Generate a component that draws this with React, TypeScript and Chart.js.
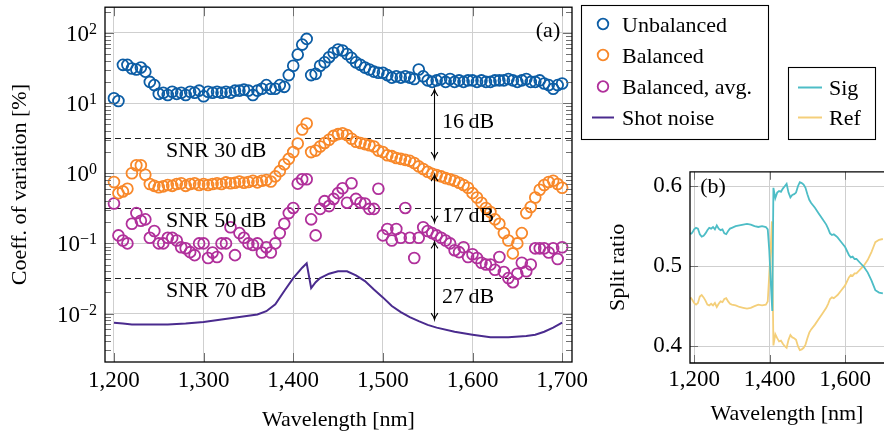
import React, { useEffect, useRef } from 'react';
import { Chart, registerables } from 'chart.js';
Chart.register(...registerables);

const FONT = '"Liberation Serif", "Times New Roman", serif';
const FS = 22;
const TFS = 23;

const BLUE = '#0C5DA5';
const ORANGE = '#F8882A';
const MAGENTA = '#B0309B';
const SHOT = '#4A2B8E';
const SIG = '#4DBDC6';
const REF = '#F4CF7A';
const GRID = '#cfcfcf';

// ---- panel (a) data ----
const wavelengths = [
  1200, 1205, 1210, 1215, 1220, 1225, 1230, 1235, 1240, 1245,
  1250, 1255, 1260, 1265, 1270, 1275, 1280, 1285, 1290, 1295,
  1300, 1305, 1310, 1315, 1320, 1325, 1330, 1335, 1340, 1345,
  1350, 1355, 1360, 1365, 1370, 1375, 1380, 1385, 1390, 1395,
  1400, 1405, 1410, 1415, 1420, 1425, 1430, 1435, 1440, 1445,
  1450, 1455, 1460, 1465, 1470, 1475, 1480, 1485, 1490, 1495,
  1500, 1505, 1510, 1515, 1520, 1525, 1530, 1535, 1540, 1545,
  1550, 1555, 1560, 1565, 1570, 1575, 1580, 1585, 1590, 1595,
  1600, 1605, 1610, 1615, 1620, 1625, 1630, 1635, 1640, 1645,
  1650, 1655, 1660, 1665, 1670, 1675, 1680, 1685, 1690, 1695,
  1700,
];
const unbalanced = [
  11.7, 10.7, 35, 35, 31, 30, 32, 28, 20, 18,
  13.5, 14, 13, 14.5, 13.5, 14, 13, 14.5, 14, 15,
  12.5, 14.5, 14, 14.5, 14, 14.5, 14, 15, 15, 15.5,
  15, 13, 15, 16, 18, 16, 16, 18, 17, 25,
  34, 49, 68, 82, 25, 26, 34, 38, 45, 52,
  58, 56, 50, 44, 38, 35, 32, 30, 28, 27,
  27, 25, 23, 24, 23, 24, 23, 22, 30, 24,
  21, 20, 21, 22, 20, 22, 20, 21, 20, 21,
  21, 20, 21, 20, 20, 21, 21, 21, 22, 21,
  20, 21, 22, 20, 20, 21, 19, 18, 16, 18,
  19,
];
const balanced = [
  0.75, 0.52, 0.55, 0.60, 1.0, 1.3, 1.3, 0.95, 0.70, 0.66,
  0.63, 0.65, 0.68, 0.66, 0.70, 0.72, 0.66, 0.70, 0.72, 0.68,
  0.70, 0.68, 0.70, 0.72, 0.70, 0.74, 0.72, 0.73, 0.76, 0.73,
  0.75, 0.78, 0.74, 0.78, 0.80, 0.76, 0.90, 1.07, 1.34, 1.6,
  2.0, 2.65, 4.2, 5.1, 2.0, 2.1, 2.4, 2.7, 3.0, 3.4,
  3.6, 3.7, 3.5, 3.1, 2.8, 2.7, 2.6, 2.5, 2.4, 2.1,
  2.0, 1.8, 1.75, 1.65, 1.6, 1.55, 1.5, 1.4, 1.25, 1.15,
  1.05, 0.98, 0.94, 0.90, 0.85, 0.82, 0.78, 0.73, 0.68, 0.62,
  0.52, 0.45, 0.38, 0.32, 0.28, 0.22, 0.19, 0.14, 0.11, 0.072,
  0.10, 0.14, 0.27, 0.33, 0.45, 0.58, 0.68, 0.75, 0.78, 0.70,
  0.62,
];
const balancedAvg = [
  0.37, 0.13, 0.11, 0.10, 0.19, 0.27, 0.21, 0.22, 0.12, 0.15,
  0.10, 0.10, 0.12, 0.12, 0.11, 0.088, 0.085, 0.075, 0.068, 0.10,
  0.10, 0.062, 0.074, 0.064, 0.10, 0.10, 0.17, 0.068, 0.14, 0.12,
  0.10, 0.095, 0.10, 0.074, 0.088, 0.074, 0.10, 0.14, 0.19, 0.27,
  0.32, 0.71, 0.82, 0.82, 0.22, 0.13, 0.31, 0.40, 0.34, 0.43,
  0.52, 0.61, 0.38, 0.72, 0.43, 0.38, 0.37, 0.31, 0.31, 0.60,
  0.13, 0.16, 0.11, 0.16, 0.12, 0.32, 0.12, 0.062, 0.12, 0.17,
  0.15, 0.14, 0.13, 0.12, 0.11, 0.10, 0.08, 0.075, 0.088, 0.064,
  0.07, 0.062, 0.053, 0.05, 0.05, 0.042, 0.064, 0.039, 0.032, 0.028,
  0.037, 0.053, 0.04, 0.05, 0.085, 0.085, 0.085, 0.074, 0.085, 0.06,
  0.088,
];
const shotX = [
  1200, 1210, 1220, 1240, 1260, 1280, 1300, 1320, 1340, 1360, 1370, 1380, 1390, 1400,
  1410, 1415, 1420, 1425, 1430, 1440, 1450, 1460, 1470, 1480, 1490, 1500, 1510, 1520,
  1530, 1540, 1550, 1560, 1580, 1600, 1620, 1640, 1660, 1670, 1680, 1690, 1700,
];
const shotY = [
  0.0074, 0.0072, 0.0070, 0.0070, 0.0070, 0.0072, 0.0076, 0.0082, 0.0089, 0.0097, 0.0108, 0.0135, 0.021, 0.032,
  0.045, 0.052, 0.023, 0.028, 0.032, 0.037, 0.040, 0.040, 0.035, 0.029, 0.022, 0.017, 0.0128, 0.0105,
  0.0089, 0.0078, 0.0069, 0.0063, 0.0055, 0.0050, 0.0046, 0.0046, 0.0048, 0.0050, 0.0055, 0.0063, 0.0074,
];

const xTicksA = [1200, 1300, 1400, 1500, 1600, 1700];
const yTicksA = [0.01, 0.1, 1, 10, 100];
const yExpA = ['\u22122', '\u22121', '0', '1', '2'];

const snrValues = [3.162, 0.3162, 0.03162];
const snrLabels = ['SNR 30\u2009dB', 'SNR 50\u2009dB', 'SNR 70\u2009dB'];
const snrLabelX = 1314;

const arrowX = 1557;
const arrowTops = [15.6, 0.957, 0.105];
const arrowBottoms = [1.61, 0.2, 0.0082];
const arrowLabels = ['16\u2009dB', '17\u2009dB', '27\u2009dB'];
const arrowLabelValues = [5.4, 0.244, 0.017];

const legendA = ['Unbalanced', 'Balanced', 'Balanced, avg.', 'Shot noise'];
const legendB = ['Sig', 'Ref'];

// ---- panel (b) data ----
const sigX = [
  1190, 1195, 1200, 1205, 1210, 1215, 1220, 1225, 1230, 1235, 1240, 1245, 1250, 1255,
  1260, 1265, 1270, 1275, 1280, 1285, 1290, 1295, 1300, 1310, 1320, 1330, 1340, 1350,
  1360, 1370, 1380, 1390, 1395, 1399, 1403, 1407, 1410, 1415, 1420, 1425, 1430, 1435,
  1440, 1445, 1450, 1455, 1460, 1465, 1470, 1475, 1480, 1485, 1490, 1495, 1500, 1505,
  1510, 1520, 1530, 1540, 1550, 1555, 1560, 1565, 1570, 1575, 1580, 1590, 1600, 1610,
  1615, 1620, 1625, 1630, 1640, 1650, 1660, 1665, 1670, 1675, 1680, 1690, 1700,
];
const sigY = [
  0.540, 0.542, 0.546, 0.548, 0.547, 0.540, 0.537, 0.538, 0.541, 0.545, 0.548, 0.547, 0.549, 0.546,
  0.551, 0.547, 0.545, 0.546, 0.541, 0.540, 0.544, 0.547, 0.548, 0.550, 0.551, 0.552, 0.553, 0.552,
  0.550, 0.549, 0.550, 0.549, 0.546, 0.520, 0.480, 0.444, 0.598, 0.585, 0.592, 0.594, 0.593, 0.597,
  0.600, 0.603, 0.592, 0.586, 0.589, 0.590, 0.592, 0.600, 0.605, 0.604, 0.602, 0.598, 0.590, 0.583,
  0.579, 0.573, 0.566, 0.559, 0.552, 0.547, 0.541, 0.539, 0.540, 0.538, 0.536, 0.530, 0.524, 0.514,
  0.511, 0.512, 0.509, 0.509, 0.504, 0.499, 0.492, 0.487, 0.482, 0.476, 0.470, 0.467, 0.466,
];
const refX = [
  1190, 1195, 1200, 1205, 1210, 1215, 1220, 1225, 1230, 1235, 1240, 1245, 1250, 1255,
  1260, 1265, 1270, 1275, 1280, 1285, 1290, 1295, 1300, 1310, 1320, 1330, 1340, 1350,
  1360, 1370, 1380, 1390, 1395, 1399, 1403, 1406, 1410, 1415, 1420, 1425, 1430, 1435,
  1440, 1445, 1450, 1455, 1460, 1465, 1470, 1475, 1480, 1485, 1490, 1495, 1500, 1505,
  1510, 1520, 1530, 1540, 1550, 1555, 1560, 1565, 1570, 1575, 1580, 1590, 1600, 1610,
  1615, 1620, 1625, 1630, 1640, 1650, 1660, 1665, 1670, 1675, 1680, 1690, 1700,
];
const refY = [
  0.461, 0.458, 0.454, 0.452, 0.454, 0.462, 0.464, 0.461, 0.457, 0.452, 0.451, 0.453, 0.451, 0.454,
  0.449, 0.453, 0.456, 0.455, 0.459, 0.460, 0.456, 0.453, 0.452, 0.451, 0.449, 0.448, 0.447, 0.448,
  0.450, 0.452, 0.451, 0.452, 0.456, 0.490, 0.525, 0.556, 0.401, 0.415, 0.410, 0.406, 0.407, 0.403,
  0.400, 0.398, 0.408, 0.414, 0.411, 0.410, 0.408, 0.400, 0.395, 0.396, 0.398, 0.402, 0.410, 0.417,
  0.421, 0.427, 0.434, 0.441, 0.448, 0.453, 0.459, 0.461, 0.460, 0.462, 0.464, 0.470, 0.476, 0.486,
  0.489, 0.488, 0.491, 0.491, 0.496, 0.501, 0.508, 0.513, 0.518, 0.524, 0.530, 0.533, 0.534,
];
const xTicksB = [1200, 1400, 1600];
const yTicksB = [0.4, 0.5, 0.6];

const font = (s: number) => `${s}px ${FONT}`;

function drawArrow(ctx: CanvasRenderingContext2D, x: number, y1: number, y2: number) {
  ctx.beginPath();
  ctx.moveTo(x, y1);
  ctx.lineTo(x, y2);
  ctx.stroke();
  const h = 6.5, w = 3.4;
  ctx.beginPath();
  ctx.moveTo(x - w, y1 + h);
  ctx.quadraticCurveTo(x - 0.6, y1 + h * 0.45, x, y1);
  ctx.quadraticCurveTo(x + 0.6, y1 + h * 0.45, x + w, y1 + h);
  ctx.stroke();
  ctx.beginPath();
  ctx.moveTo(x - w, y2 - h);
  ctx.quadraticCurveTo(x - 0.6, y2 - h * 0.45, x, y2);
  ctx.quadraticCurveTo(x + 0.6, y2 - h * 0.45, x + w, y2 - h);
  ctx.stroke();
}

const leftPlugin = {
  id: 'leftDecor',
  beforeDatasetsDraw(chart: any) {
    const { ctx, chartArea: a, scales } = chart;
    const ys = scales.y;
    ctx.save();
    ctx.setLineDash([6, 4]);
    ctx.strokeStyle = '#1a1a1a';
    ctx.lineWidth = 1;
    snrValues.forEach((v) => {
      const py = Math.round(ys.getPixelForValue(v)) + 0.5;
      ctx.beginPath();
      ctx.moveTo(a.left, py);
      ctx.lineTo(a.right, py);
      ctx.stroke();
    });
    ctx.restore();
  },
  afterDraw(chart: any) {
    const { ctx, chartArea: a, scales } = chart;
    const xs = scales.x;
    const ys = scales.y;
    ctx.save();
    // minor/major ticks
    ctx.strokeStyle = '#707070';
    ctx.lineWidth = 1;
    for (let d = -3; d <= 2; d++) {
      for (let m = 1; m <= 9; m++) {
        const v = m * Math.pow(10, d);
        if (v < ys.min || v > ys.max) continue;
        const py = Math.round(ys.getPixelForValue(v)) + 0.5;
        const len = m === 1 ? 9 : 6;
        ctx.beginPath();
        ctx.moveTo(a.left, py);
        ctx.lineTo(a.left + len, py);
        ctx.moveTo(a.right, py);
        ctx.lineTo(a.right - len, py);
        ctx.stroke();
      }
    }
    xTicksA.forEach((v) => {
      const px = Math.round(xs.getPixelForValue(v)) + 0.5;
      ctx.beginPath();
      ctx.moveTo(px, a.bottom);
      ctx.lineTo(px, a.bottom - 9);
      ctx.moveTo(px, a.top);
      ctx.lineTo(px, a.top + 9);
      ctx.stroke();
    });
    // frame
    ctx.strokeStyle = '#000';
    ctx.lineWidth = 1.3;
    ctx.strokeRect(a.left, a.top, a.right - a.left, a.bottom - a.top);

    // y tick labels with superscripts
    ctx.fillStyle = '#000';
    yTicksA.forEach((v, i) => {
      const py = ys.getPixelForValue(v);
      const sup = yExpA[i];
      ctx.font = font(16);
      const sw = ctx.measureText(sup).width;
      ctx.textAlign = 'right';
      ctx.textBaseline = 'alphabetic';
      ctx.fillText(sup, 97, py + 1);
      ctx.font = font(TFS);
      ctx.fillText('10', 97 - sw, py + 8);
    });

    // SNR labels
    ctx.font = font(FS);
    ctx.textAlign = 'center';
    ctx.textBaseline = 'alphabetic';
    snrValues.forEach((v, i) => {
      const py = ys.getPixelForValue(v);
      ctx.fillText(snrLabels[i], xs.getPixelForValue(snrLabelX), py + 19);
    });

    // arrows
    ctx.strokeStyle = '#000';
    ctx.lineWidth = 1.1;
    const ax = Math.round(xs.getPixelForValue(arrowX)) + 0.5;
    arrowTops.forEach((t, i) => {
      drawArrow(ctx, ax, ys.getPixelForValue(t), ys.getPixelForValue(arrowBottoms[i]));
      ctx.textAlign = 'left';
      ctx.textBaseline = 'middle';
      ctx.fillText(arrowLabels[i], ax + 7.5, ys.getPixelForValue(arrowLabelValues[i]));
    });

    // (a)
    ctx.textAlign = 'center';
    ctx.textBaseline = 'middle';
    ctx.fillText('(a)', 548, 31);

    // legend (a)
    ctx.fillStyle = '#fff';
    ctx.fillRect(581, 5, 188, 135);
    ctx.strokeStyle = '#000';
    ctx.lineWidth = 1.1;
    ctx.strokeRect(581.5, 5.5, 187, 134);
    const ds = chart.data.datasets;
    const rowsA = [24, 55, 86.5, 117.5];
    legendA.forEach((label, i) => {
      const y = rowsA[i];
      const col = ds[i].borderColor;
      ctx.strokeStyle = col;
      if (i < 3) {
        ctx.lineWidth = 1.8;
        ctx.beginPath();
        ctx.arc(603, y, 5.3, 0, Math.PI * 2);
        ctx.stroke();
      } else {
        ctx.lineWidth = 2;
        ctx.beginPath();
        ctx.moveTo(592, y);
        ctx.lineTo(614, y);
        ctx.stroke();
      }
      ctx.fillStyle = '#000';
      ctx.font = font(FS);
      ctx.textAlign = 'left';
      ctx.textBaseline = 'alphabetic';
      ctx.fillText(label, 622, y + 7.5);
    });

    // legend (b)
    ctx.fillStyle = '#fff';
    ctx.fillRect(788, 67, 88, 73);
    ctx.strokeStyle = '#000';
    ctx.lineWidth = 1.1;
    ctx.strokeRect(788.5, 67.5, 87, 72);
    const rowsB = [87.5, 117.5];
    const colsB = [SIG, REF];
    legendB.forEach((label, i) => {
      const y = rowsB[i];
      ctx.strokeStyle = colsB[i];
      ctx.lineWidth = 2;
      ctx.beginPath();
      ctx.moveTo(798, y);
      ctx.lineTo(822, y);
      ctx.stroke();
      ctx.fillStyle = '#000';
      ctx.font = font(FS);
      ctx.textAlign = 'left';
      ctx.textBaseline = 'alphabetic';
      ctx.fillText(label, 829, y + 7.5);
    });
    ctx.restore();
  },
};

const rightPlugin = {
  id: 'rightDecor',
  afterDraw(chart: any) {
    const { ctx, chartArea: a, scales } = chart;
    const xs = scales.x;
    const ys = scales.y;
    ctx.save();
    ctx.strokeStyle = '#707070';
    ctx.lineWidth = 1;
    xTicksB.forEach((v) => {
      const px = Math.round(xs.getPixelForValue(v)) + 0.5;
      ctx.beginPath();
      ctx.moveTo(px, a.bottom);
      ctx.lineTo(px, a.bottom - 8);
      ctx.moveTo(px, a.top);
      ctx.lineTo(px, a.top + 8);
      ctx.stroke();
    });
    yTicksB.forEach((v) => {
      const py = Math.round(ys.getPixelForValue(v)) + 0.5;
      ctx.beginPath();
      ctx.moveTo(a.left, py);
      ctx.lineTo(a.left + 8, py);
      ctx.stroke();
    });
    ctx.strokeStyle = '#000';
    ctx.lineWidth = 1.3;
    ctx.beginPath();
    ctx.moveTo(a.right + 2, a.top);
    ctx.lineTo(a.left, a.top);
    ctx.lineTo(a.left, a.bottom);
    ctx.lineTo(a.right + 2, a.bottom);
    ctx.stroke();
    ctx.fillStyle = '#000';
    ctx.font = font(FS);
    ctx.textAlign = 'center';
    ctx.textBaseline = 'middle';
    ctx.fillText('(b)', 713 - 590, 187 - 150);
    ctx.restore();
  },
};

const fmtThousands = (v: any) => Number(v).toLocaleString('en-US');

function makeLeft(canvas: HTMLCanvasElement) {
  const pts = (vals: number[]) => wavelengths.map((x, i) => ({ x, y: vals[i] }));
  const marker = (label: string, vals: number[], color: string) => ({
    label,
    data: pts(vals),
    borderColor: color,
    backgroundColor: 'rgba(0,0,0,0)',
    pointBorderColor: color,
    pointBackgroundColor: 'rgba(0,0,0,0)',
    pointRadius: 5.4,
    pointHoverRadius: 5.4,
    pointBorderWidth: 1.8,
    pointStyle: 'circle',
    showLine: false,
  });
  return new Chart(canvas, {
    type: 'scatter',
    data: {
      datasets: [
        marker(legendA[0], unbalanced, BLUE),
        marker(legendA[1], balanced, ORANGE),
        marker(legendA[2], balancedAvg, MAGENTA),
        {
          label: legendA[3],
          data: shotX.map((x, i) => ({ x, y: shotY[i] })),
          borderColor: SHOT,
          backgroundColor: SHOT,
          borderWidth: 2,
          pointRadius: 0,
          pointHoverRadius: 0,
          showLine: true,
          tension: 0,
          fill: false,
        } as any,
      ],
    },
    options: {
      animation: false,
      responsive: false,
      maintainAspectRatio: false,
      devicePixelRatio: 1,
      events: [],
      layout: { padding: { left: 0, right: 884 - 572, top: 4, bottom: 0 } },
      plugins: { legend: { display: false }, tooltip: { enabled: false } },
      scales: {
        x: {
          type: 'linear',
          min: 1190,
          max: 1711,
          afterBuildTicks: (s: any) => {
            s.ticks = xTicksA.map((v) => ({ value: v }));
          },
          afterFit: (s: any) => {
            s.height = 74;
          },
          grid: { color: GRID, lineWidth: 1, drawTicks: false },
          border: { display: false },
          ticks: { padding: 5, color: '#000', font: { family: FONT, size: TFS }, callback: fmtThousands, maxRotation: 0, autoSkip: false },
          title: { display: true, text: 'Wavelength [nm]', color: '#000', font: { family: FONT, size: FS }, padding: { top: 0, bottom: 3 } },
        },
        y: {
          type: 'logarithmic',
          min: 0.00204,
          max: 232,
          afterBuildTicks: (s: any) => {
            s.ticks = yTicksA.map((v) => ({ value: v }));
          },
          afterFit: (s: any) => {
            s.width = 105;
          },
          grid: { color: GRID, lineWidth: 1, drawTicks: false },
          border: { display: false },
          ticks: { display: false },
          title: { display: true, text: 'Coeff. of variation [%]', color: '#000', font: { family: FONT, size: FS }, padding: { top: 7, bottom: 0 } },
        },
      },
    } as any,
    plugins: [leftPlugin],
  });
}

function makeRight(canvas: HTMLCanvasElement) {
  const line = (label: string, xsArr: number[], ysArr: number[], color: string) => ({
    label,
    data: xsArr.map((x, i) => ({ x, y: ysArr[i] })),
    borderColor: color,
    backgroundColor: color,
    borderWidth: 1.8,
    pointRadius: 0,
    pointHoverRadius: 0,
    showLine: true,
    tension: 0,
    fill: false,
  });
  return new Chart(canvas, {
    type: 'scatter',
    data: {
      datasets: [line(legendB[0], sigX, sigY, SIG), line(legendB[1], refX, refY, REF)],
    },
    options: {
      animation: false,
      responsive: false,
      maintainAspectRatio: false,
      devicePixelRatio: 1,
      events: [],
      layout: { padding: { left: 0, right: 0, top: 17, bottom: 0 } },
      plugins: { legend: { display: false }, tooltip: { enabled: false } },
      scales: {
        x: {
          type: 'linear',
          min: 1189,
          max: 1703,
          afterBuildTicks: (s: any) => {
            s.ticks = xTicksB.map((v) => ({ value: v }));
          },
          afterFit: (s: any) => {
            s.height = 73;
          },
          grid: { color: GRID, lineWidth: 1, drawTicks: false },
          border: { display: false },
          ticks: { padding: 3, color: '#000', font: { family: FONT, size: TFS }, callback: fmtThousands, maxRotation: 0, autoSkip: false },
          title: { display: true, text: 'Wavelength [nm]', color: '#000', font: { family: FONT, size: FS }, padding: { top: 0, bottom: 9 } },
        },
        y: {
          type: 'linear',
          min: 0.379,
          max: 0.618,
          afterBuildTicks: (s: any) => {
            s.ticks = yTicksB.map((v) => ({ value: v }));
          },
          afterFit: (s: any) => {
            s.width = 100;
          },
          grid: { color: GRID, lineWidth: 1, drawTicks: false },
          border: { display: false },
          ticks: { padding: 8, color: '#000', font: { family: FONT, size: TFS }, callback: (v: any) => Number(v).toFixed(1) },
          title: { display: true, text: 'Split ratio', color: '#000', font: { family: FONT, size: FS }, padding: { top: 15, bottom: 0 } },
        },
      },
    } as any,
    plugins: [rightPlugin],
  });
}

export default function App() {
  const leftRef = useRef<HTMLCanvasElement>(null);
  const rightRef = useRef<HTMLCanvasElement>(null);
  useEffect(() => {
    const c1 = makeLeft(leftRef.current!);
    const c2 = makeRight(rightRef.current!);
    return () => {
      c1.destroy();
      c2.destroy();
    };
  }, []);
  return (
    <div style={{ position: 'fixed', left: 0, top: 0, width: 884, height: 436, background: '#fff', overflow: 'hidden' }}>
      <canvas ref={leftRef} width={884} height={436} style={{ position: 'absolute', left: 0, top: 0, width: 884, height: 436 }} />
      <canvas ref={rightRef} width={294} height={286} style={{ position: 'absolute', left: 590, top: 150, width: 294, height: 286 }} />
    </div>
  );
}
